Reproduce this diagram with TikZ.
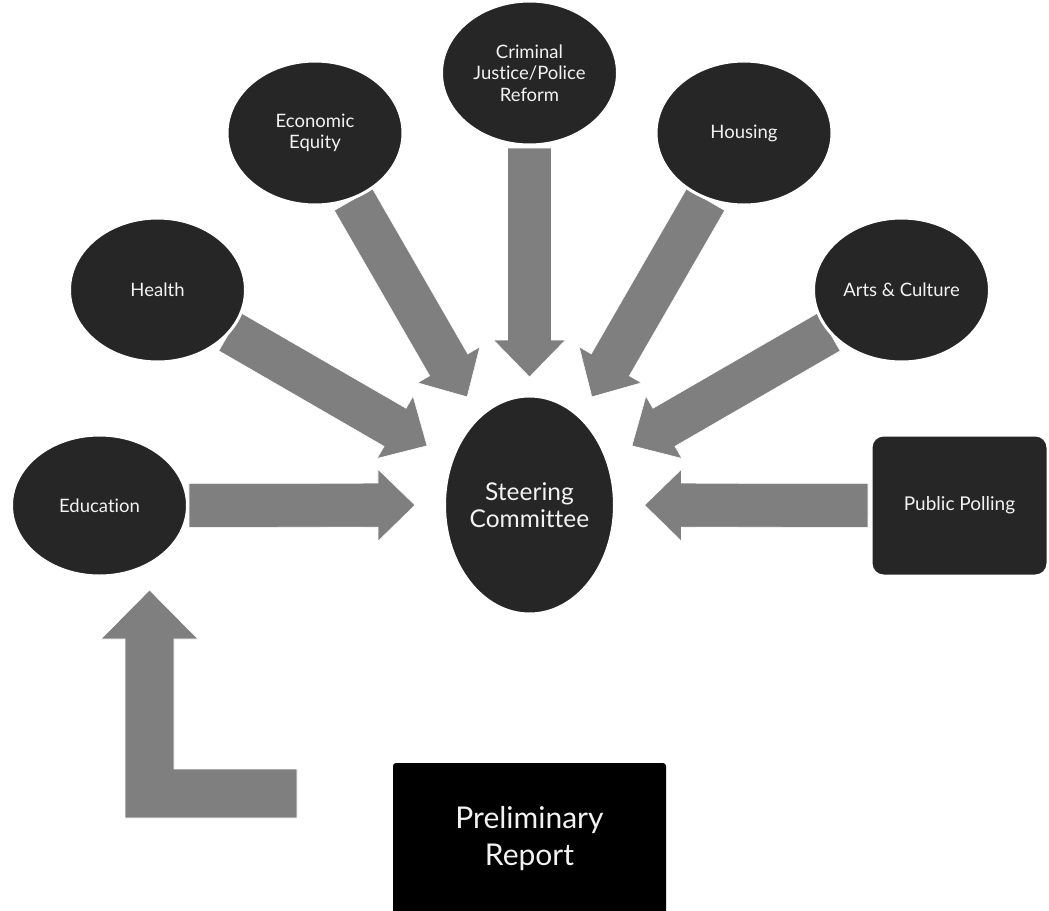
\documentclass[tikz,border=0pt]{standalone}
\usepackage{fontspec}
\setmainfont{Lato}[Ligatures=NoCommon]
\usetikzlibrary{calc,shapes.geometric,backgrounds}
\definecolor{nodefill}{HTML}{262626}
\definecolor{arrowfill}{HTML}{7F7F7F}
\definecolor{txt}{HTML}{F2F2F2}
\pgfdeclarelayer{arrows}
\pgfsetlayers{arrows,main}
\newcommand{\blockarrow}[2]{%
  \coordinate (ba-h) at ($(#2)!37pt!(#1)$);
  \filldraw[barrow] ($(#1)!22pt!90:(#2)$) -- ($(ba-h)!22pt!-90:(#1)$) -- ($(ba-h)!36pt!-90:(#1)$) -- (#2) -- ($(ba-h)!36pt!90:(#1)$) -- ($(ba-h)!22pt!90:(#1)$) -- ($(#1)!22pt!-90:(#2)$) -- cycle;}
\begin{document}
\begin{tikzpicture}[x=1pt,y=-1pt,
  topic/.style={ellipse, fill=nodefill, draw=white, line width=3pt, minimum width=176pt, minimum height=144pt, inner sep=0pt, text=txt, align=center, font=\fontsize{18.5}{21.5}\selectfont},
  center/.style={ellipse, fill=nodefill, draw=white, line width=3pt, minimum width=170pt, minimum height=218pt, inner sep=0pt, text=txt, align=center, font=\fontsize{24.5}{27}\selectfont},
  poll/.style={rectangle, rounded corners=12pt, fill=nodefill, draw=white, line width=2pt, minimum width=176pt, minimum height=140pt, inner sep=0pt, text=txt, align=center, font=\fontsize{19}{21}\selectfont},
  report/.style={rectangle, rounded corners=3pt, fill=black, minimum width=273pt, minimum height=152pt, inner sep=0pt, text=txt, align=center, font=\fontsize{30}{37}\selectfont},
  barrow/.style={fill=arrowfill, draw=white, line width=0.6pt}]
\useasboundingbox (0,0) rectangle (1049,910);
\clip (0,0) rectangle (1049,910);

\node[center] (steer) at (529.5,505) {Steering\\Committee};
\node[topic] (crim) at (529.5,73) {Criminal\\Justice/Police\\Reform};
\node[topic] (econ) at (315,133) {Economic\\Equity};
\node[topic] (hous) at (744,133) {Housing};
\node[topic] (health) at (157.5,290) {Health};
\node[topic] (arts) at (901.5,290) {Arts \& Culture};
\node[topic, minimum height=141pt] (edu) at (99.5,505.5) {Education};
\node[poll] (poll) at (959.5,505.5) {Public Polling};
\node[report] (rep) at (529.5,839) {Preliminary\\Report};

\begin{pgfonlayer}{arrows}
\coordinate (t-crim) at ($(crim.center)!75pt!(steer.center)$);
\coordinate (p-crim) at ($(steer.center)!128pt!(crim.center)$);
\coordinate (t-econ) at ($(econ.center)!76.7pt!(steer.center)$);
\coordinate (p-econ) at ($(steer.center)!124.8pt!(econ.center)$);
\coordinate (t-hous) at ($(hous.center)!76.7pt!(steer.center)$);
\coordinate (p-hous) at ($(steer.center)!124.8pt!(hous.center)$);
\coordinate (t-health) at ($(health.center)!83.5pt!(steer.center)$);
\coordinate (p-health) at ($(steer.center)!118.3pt!(health.center)$);
\coordinate (t-arts) at ($(arts.center)!83.5pt!(steer.center)$);
\coordinate (p-arts) at ($(steer.center)!118.3pt!(arts.center)$);
\coordinate (t-edu) at ($(edu.center)!89.5pt!(steer.center)$);
\coordinate (p-edu) at ($(steer.center)!114.5pt!(edu.center)$);
\coordinate (t-poll) at ($(poll.center)!91.5pt!(steer.center)$);
\coordinate (p-poll) at ($(steer.center)!115pt!(poll.center)$);
\blockarrow{t-crim}{p-crim}
\blockarrow{t-econ}{p-econ}
\blockarrow{t-hous}{p-hous}
\blockarrow{t-health}{p-health}
\blockarrow{t-arts}{p-arts}
\blockarrow{t-edu}{p-edu}
\blockarrow{t-poll}{p-poll}
\end{pgfonlayer}

% L-shaped arrow from the report area up to Education
\filldraw[barrow] (125,818) -- (297,818) -- (297,769) -- (174,769) -- (174,639) -- (198,639) -- (149.5,590) -- (101,639) -- (125,639) -- cycle;
\end{tikzpicture}
\end{document}
